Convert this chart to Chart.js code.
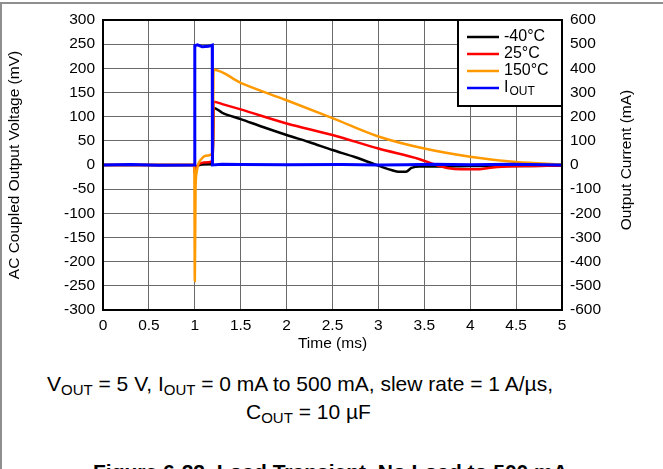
<!DOCTYPE html>
<html>
<head>
<meta charset="utf-8">
<script src="https://cdn.jsdelivr.net/npm/chart.js@4.4.0/dist/chart.umd.min.js"></script>
<style>
    body { margin: 0; width: 663px; height: 469px; overflow: hidden; background: #fff; position: relative;
           font-family: "Liberation Sans", Arial, sans-serif; color: #000; }
    #frame { position: absolute; left: 0; top: 2px; width: 663px; height: 480px;
             border-top: 2px solid #8f8f8f; border-left: 2px solid #8f8f8f; }
    #wrap { position: absolute; left: 0; top: 0; width: 663px; height: 360px; }
    .cap { position: absolute; font-size: 21px; line-height: 21px; white-space: nowrap; }
    .cap sub { font-size: 15px; vertical-align: -4px; line-height: 0; }
    .fig { font-weight: bold; }
</style>
</head>
<body>
<div id="frame"></div>
<div id="wrap"><canvas id="transientChart"></canvas></div>
<div class="cap" style="left:47px; top:373px;">V<sub>OUT</sub> = 5 V, I<sub>OUT</sub> = 0 mA to 500 mA, slew rate = 1 A/µs,</div>
<div class="cap" style="left:246px; top:401px;">C<sub>OUT</sub> = 10 µF</div>
<div class="cap fig" style="left:93px; top:461px;">Figure 6-22. Load Transient, No Load to 500 mA</div>

<script>
// axis ticks
const timeTicks = [0, 0.5, 1, 1.5, 2, 2.5, 3, 3.5, 4, 4.5, 5];
const voltTicks = [-300, -250, -200, -150, -100, -50, 0, 50, 100, 150, 200, 250, 300];
const currentTicks = [-600, -500, -400, -300, -200, -100, 0, 100, 200, 300, 400, 500, 600];

// -40°C output voltage (mV)
const timeCold = [0, 0.5, 0.99, 1.0, 1.005, 1.02, 1.05, 1.1, 1.195, 1.205, 1.3, 1.5, 1.75, 2.0, 2.25, 2.5, 2.75, 2.95, 3.05, 3.15, 3.22, 3.3, 3.36, 3.45, 3.7, 4.0, 4.5, 5.0];
const voltCold = [0, 0, 0, -12, -8, -3, 0, 2, 3, 118, 108, 95, 78, 62, 47, 31, 16, 2, -5, -11, -14, -14, -6, -3, -3, -2, -2, -1];

// 25°C output voltage (mV)
const timeRoom = [0, 0.5, 0.99, 1.0, 1.005, 1.02, 1.05, 1.1, 1.195, 1.205, 1.3, 1.5, 2.0, 2.5, 3.0, 3.45, 3.63, 3.75, 3.9, 4.1, 4.2, 4.4, 4.7, 5.0];
const voltRoom = [0, 0, 0, -18, -10, -3, 2, 5, 8, 131, 126, 115, 86, 62, 34, 12, 0, -6, -9, -9, -6, -3, -2, -1];

// 150°C output voltage (mV)
const timeHot = [0, 0.5, 0.995, 1.0, 1.008, 1.02, 1.035, 1.07, 1.12, 1.195, 1.205, 1.5, 2.0, 2.5, 3.0, 3.5, 4.0, 4.5, 5.0];
const voltHot = [0, 0, 0, -240, -50, -15, 0, 12, 19, 24, 197, 170, 134, 97, 59, 34, 17, 6, 1];

// output current (mA)
const timeLoad = [0, 0.3, 0.6, 0.998, 1.0, 1.03, 1.08, 1.15, 1.19, 1.192, 1.3, 1.5, 2.0, 2.6, 3.0, 3.3, 3.6, 4.0, 4.45, 5.0];
const currentLoad = [0, 2, -1, 0, 494, 497, 489, 491, 496, 0, 3, 2, 1, 2, 0, 1, 3, 1, 3, 0];

const seriesNames = ['-40°C', '25°C', '150°C', 'I'];
const seriesColors = ['#000000', '#ff0000', '#ff9900', '#0000ff'];

const FONT = '"Liberation Sans", Arial, sans-serif';
Chart.defaults.font.family = FONT;
Chart.defaults.color = '#000';

function toPoints(xs, ys) {
    return xs.map((x, i) => ({ x, y: ys[i] }));
}

function fixedTicks(list) {
    return scale => { scale.ticks = list.map(v => ({ value: v })); };
}

const frameAndLegend = {
    id: 'frameAndLegend',
    afterDraw(chart) {
        const { ctx, chartArea: a } = chart;
        ctx.save();
        ctx.strokeStyle = '#000';
        ctx.lineWidth = 2;
        ctx.strokeRect(a.left, a.top, a.right - a.left, a.bottom - a.top);

        // right axis title reads bottom-to-top like the left one
        ctx.save();
        ctx.translate(627, (a.top + a.bottom) / 2 - 5);
        ctx.rotate(-Math.PI / 2);
        ctx.font = '15.5px ' + FONT;
        ctx.fillStyle = '#000';
        ctx.textAlign = 'center';
        ctx.textBaseline = 'middle';
        ctx.fillText('Output Current (mA)', 0, 0);
        ctx.restore();

        const bw = 104, bh = 86;
        const bx = a.right - bw, by = a.top;
        ctx.fillStyle = '#fff';
        ctx.fillRect(bx, by, bw, bh);
        ctx.strokeRect(bx, by, bw, bh);

        ctx.textBaseline = 'middle';
        seriesNames.forEach((name, i) => {
            const y = by + 17 + i * 17;
            ctx.strokeStyle = seriesColors[i];
            ctx.lineWidth = 2.5;
            ctx.beginPath();
            ctx.moveTo(bx + 9, y);
            ctx.lineTo(bx + 41, y);
            ctx.stroke();
            ctx.fillStyle = '#000';
            ctx.font = '16px ' + FONT;
            ctx.fillText(name, bx + 46, y);
            if (name === 'I') {
                const w = ctx.measureText(name).width;
                ctx.font = '12px ' + FONT;
                ctx.fillText('OUT', bx + 46 + w + 1, y + 4);
            }
        });
        ctx.restore();
    }
};

const gridColor = '#6a6a6a';
const tickFont = { size: 15.5 };

new Chart(document.getElementById('transientChart'), {
    type: 'line',
    data: {
        datasets: [
            { label: seriesNames[0], data: toPoints(timeCold, voltCold), borderColor: seriesColors[0], yAxisID: 'y', order: 3, cubicInterpolationMode: 'monotone' },
            { label: seriesNames[1], data: toPoints(timeRoom, voltRoom), borderColor: seriesColors[1], yAxisID: 'y', order: 2, cubicInterpolationMode: 'monotone' },
            { label: seriesNames[2], data: toPoints(timeHot, voltHot), borderColor: seriesColors[2], yAxisID: 'y', order: 1, cubicInterpolationMode: 'monotone' },
            { label: 'IOUT', data: toPoints(timeLoad, currentLoad), borderColor: seriesColors[3], yAxisID: 'y1', order: 0, borderWidth: 3 }
        ]
    },
    options: {
        responsive: true,
        maintainAspectRatio: false,
        animation: false,
        layout: { padding: { top: 20, left: 0, right: 0, bottom: 0 } },
        elements: {
            point: { radius: 0 },
            line: { borderWidth: 2.5, tension: 0, fill: false }
        },
        plugins: {
            legend: { display: false },
            tooltip: { enabled: false }
        },
        scales: {
            x: {
                type: 'linear',
                min: 0,
                max: 5,
                afterBuildTicks: fixedTicks(timeTicks),
                afterFit: s => { s.height = 50; },
                ticks: { font: tickFont, padding: 6, maxRotation: 0, autoSkip: false, callback: v => String(v) },
                grid: { color: gridColor, lineWidth: 1, drawTicks: false },
                border: { display: false },
                title: { display: true, text: 'Time (ms)', font: { size: 15.5 }, padding: { top: 0, bottom: 7 } }
            },
            y: {
                type: 'linear',
                position: 'left',
                min: -300,
                max: 300,
                afterBuildTicks: fixedTicks(voltTicks),
                afterFit: s => { s.width = 103; },
                ticks: { font: tickFont, padding: 8, autoSkip: false, callback: v => String(v) },
                grid: { color: gridColor, lineWidth: 1, drawTicks: false },
                border: { display: false },
                title: { display: true, text: 'AC Coupled Output Voltage (mV)', font: { size: 15.5 }, padding: { top: 5, bottom: 0 } }
            },
            y1: {
                type: 'linear',
                position: 'right',
                min: -600,
                max: 600,
                afterBuildTicks: fixedTicks(currentTicks),
                afterFit: s => { s.width = 101; },
                ticks: { font: tickFont, padding: 8, autoSkip: false, callback: v => String(v) },
                grid: { display: false, drawTicks: false },
                border: { display: false },
                title: { display: false }
            }
        }
    },
    plugins: [frameAndLegend]
});
</script>
</body>
</html>
